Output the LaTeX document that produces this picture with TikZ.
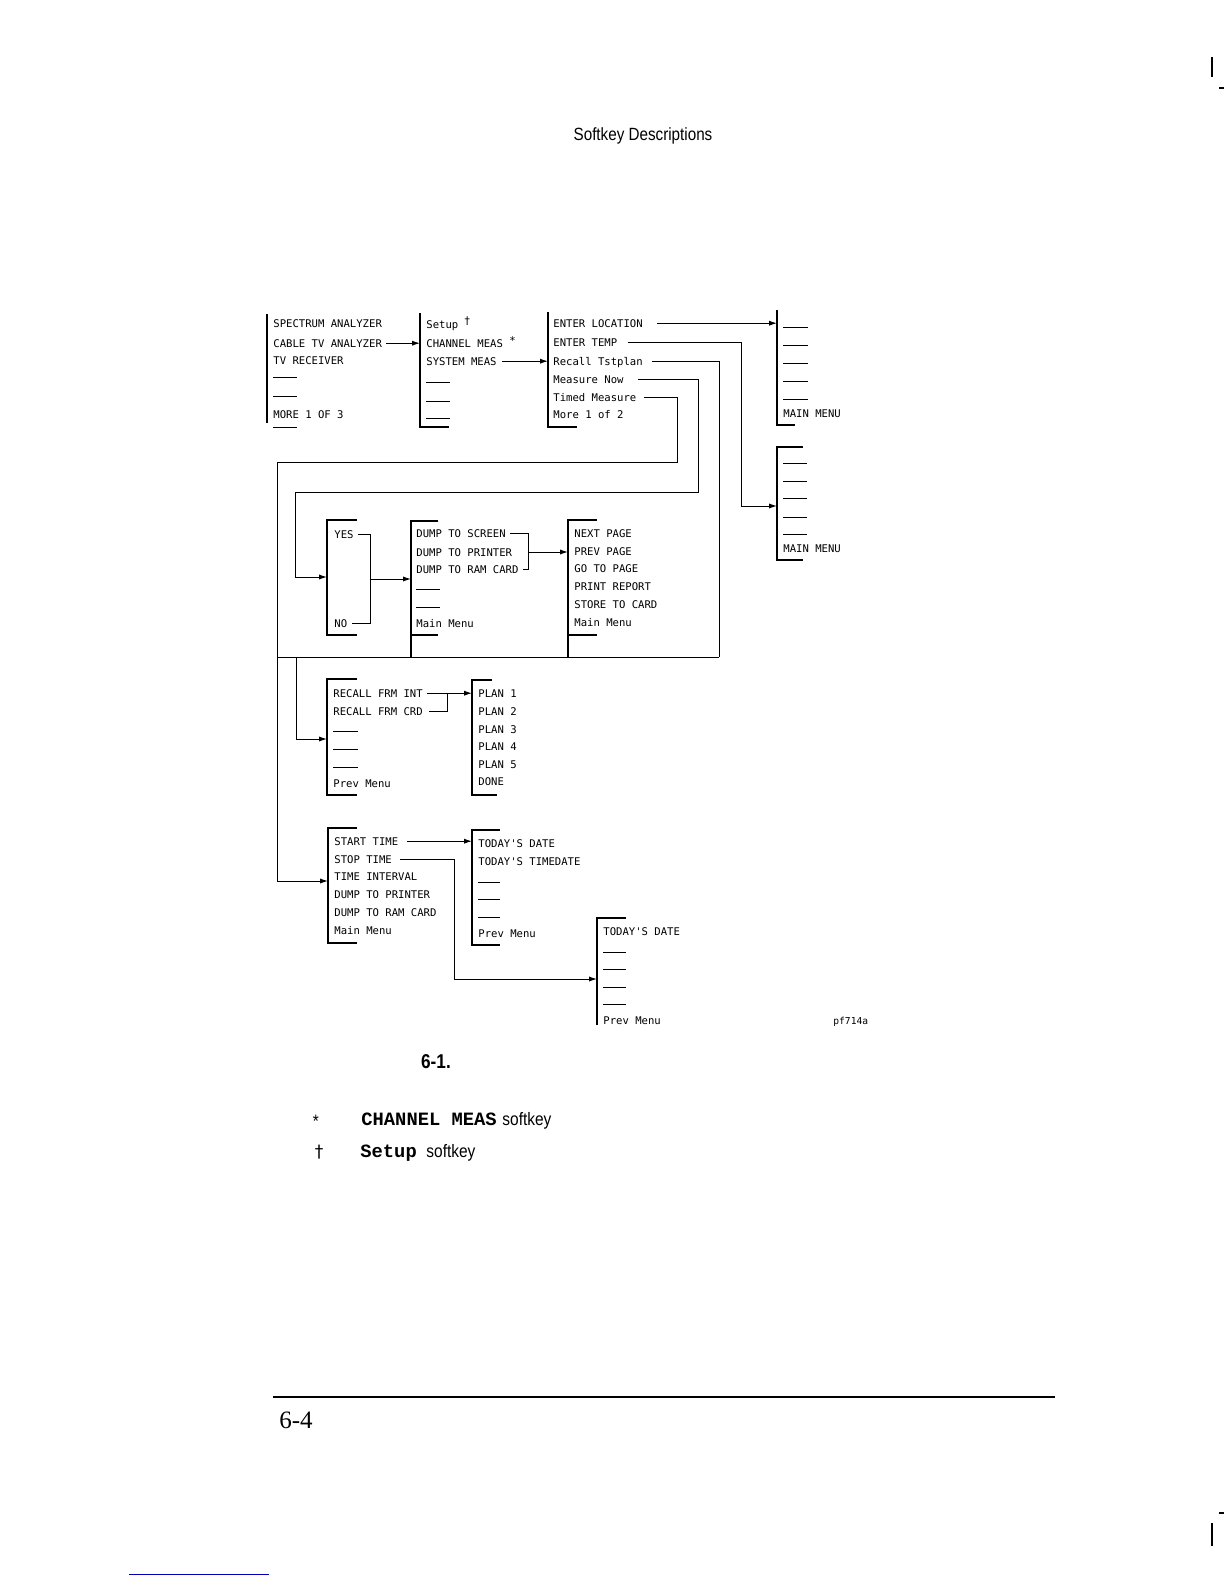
\documentclass[tikz,border=0pt]{standalone}
\usepackage{fontspec}
\setmainfont{Liberation Serif}
\newfontfamily\menufont{DejaVu Sans Mono}
\newfontfamily\condfont{Liberation Sans}[FakeStretch=0.86]
\newfontfamily\capmono{Liberation Mono}
\newfontfamily\symfont{DejaVu Sans}
\usetikzlibrary{arrows.meta,calc}
\tikzset{
  mi/.style={anchor=base west, inner sep=0pt, text height=3.8pt, text depth=0pt, font=\menufont\fontsize{5.3}{6}\selectfont},
  br/.style={line width=0.9pt},
  ds/.style={line width=0.45pt},
  cn/.style={line width=0.5pt},
  arr/.style={line width=0.5pt, -{Latex[length=4pt,width=2.6pt]}},
}
\begin{document}
\begin{tikzpicture}[x=0.5pt,y=-0.5pt]
\useasboundingbox (0,0) rectangle (1224,1584);

% bracket reference coordinates
\coordinate (A) at (267,314);
\coordinate (B) at (420,313);
\coordinate (C) at (548,312);
\coordinate (D) at (777,310);
\coordinate (E) at (777,447);
\coordinate (Y) at (327,520);
\coordinate (F) at (411,521);
\coordinate (G) at (568,520);
\coordinate (R) at (327,679);
\coordinate (P) at (472,680);
\coordinate (T) at (328,828);
\coordinate (U) at (472,830);
\coordinate (V) at (597,918);

% header
\node[font=\condfont\fontsize{8.85}{10}\selectfont, inner sep=0pt] (hdr) at (643,136) {Softkey Descriptions};

% ---- Menu A
\draw[br] (267,314) -- (267,423);
\node[mi] (a1) at (273,327) {SPECTRUM ANALYZER};
\node[mi] (a2) at (273,347) {CABLE TV ANALYZER};
\node[mi] (a3) at (273,364) {TV RECEIVER};
\draw[ds] (273,377) -- (297,377);
\draw[ds] (273,396) -- (297,396);
\node[mi] (a6) at (273,418) {MORE 1 OF 3};
\draw[ds] (273,427) -- (297,427);

% ---- Menu B
\draw[br] (420,313) -- (420,427) -- (449,427);
\node[mi] (b1) at (426,328) {Setup \raisebox{2pt}{\symfont\fontsize{5.3}{6}\selectfont †}};
\node[mi] (b2) at (426,347) {CHANNEL MEAS \raisebox{1.5pt}{*}};
\node[mi] (b3) at (426,365) {SYSTEM MEAS};
\draw[ds] (426,382) -- (450,382);
\draw[ds] (426,401) -- (450,401);
\draw[ds] (426,418) -- (450,418);

% ---- Menu C
\draw[br] (548,312) -- (548,427) -- (577,427);
\node[mi] (c1) at (553,327) {ENTER LOCATION};
\node[mi] (c2) at (553,346) {ENTER TEMP};
\node[mi] (c3) at (553,365) {Recall Tstplan};
\node[mi] (c4) at (553,383) {Measure Now};
\node[mi] (c5) at (553,401) {Timed Measure};
\node[mi] (c6) at (553,418) {More 1 of 2};

% ---- Menu D
\draw[br] (777,310) -- (777,425) -- (795,425);
\foreach \yy in {327,345,363,381,399} \draw[ds] (783,\yy) -- (808,\yy);
\node[mi] (d6) at (783,417) {MAIN MENU};

% ---- Menu E
\draw[br] (803,447) -- (777,447) -- (777,560) -- (803,560);
\foreach \yy in {463,481,498,517,534} \draw[ds] (783,\yy) -- (807,\yy);
\node[mi] (e6) at (783,552) {MAIN MENU};

% ---- YES/NO menu
\draw[br] (357,520) -- (327,520) -- (327,635) -- (357,635);
\node[mi] (yes) at (334,538) {YES};
\node[mi] (no) at (334,627) {NO};

% ---- DUMP menu
\draw[br] (438,521) -- (411,521) -- (411,657);
\draw[br] (411,635) -- (438,635);
\node[mi] (f1) at (416,537) {DUMP TO SCREEN};
\node[mi] (f2) at (416,556) {DUMP TO PRINTER};
\node[mi] (f3) at (416,573) {DUMP TO RAM CARD};
\draw[ds] (416,589) -- (440,589);
\draw[ds] (416,607) -- (440,607);
\node[mi] (f6) at (416,627) {Main Menu};

% ---- NEXT PAGE menu
\draw[br] (597,520) -- (568,520) -- (568,657);
\draw[br] (568,635) -- (597,635);
\node[mi] (g1) at (574,537) {NEXT PAGE};
\node[mi] (g2) at (574,555) {PREV PAGE};
\node[mi] (g3) at (574,572) {GO TO PAGE};
\node[mi] (g4) at (574,590) {PRINT REPORT};
\node[mi] (g5) at (574,608) {STORE TO CARD};
\node[mi] (g6) at (574,626) {Main Menu};

% ---- RECALL menu
\draw[br] (357,679) -- (327,679) -- (327,795) -- (357,795);
\node[mi] (r1) at (333,697) {RECALL FRM INT};
\node[mi] (r2) at (333,715) {RECALL FRM CRD};
\foreach \yy in {731,749,767} \draw[ds] (333,\yy) -- (358,\yy);
\node[mi] (r6) at (333,787) {Prev Menu};

% ---- PLAN menu
\draw[br] (492,680) -- (472,680) -- (472,795) -- (497,795);
\node[mi] (p1) at (478,697) {PLAN 1};
\node[mi] (p2) at (478,715) {PLAN 2};
\node[mi] (p3) at (478,733) {PLAN 3};
\node[mi] (p4) at (478,750) {PLAN 4};
\node[mi] (p5) at (478,768) {PLAN 5};
\node[mi] (p6) at (478,785) {DONE};

% ---- Timed menu
\draw[br] (357,828) -- (328,828) -- (328,943) -- (357,943);
\node[mi] (t1) at (334,845) {START TIME};
\node[mi] (t2) at (334,863) {STOP TIME};
\node[mi] (t3) at (334,880) {TIME INTERVAL};
\node[mi] (t4) at (334,898) {DUMP TO PRINTER};
\node[mi] (t5) at (334,916) {DUMP TO RAM CARD};
\node[mi] (t6) at (334,934) {Main Menu};

% ---- TODAY menu 1
\draw[br] (500,830) -- (472,830) -- (472,945) -- (500,945);
\node[mi] (u1) at (478,847) {TODAY'S DATE};
\node[mi] (u2) at (478,865) {TODAY'S TIMEDATE};
\foreach \yy in {882,899,917} \draw[ds] (478,\yy) -- (500,\yy);
\node[mi] (u6) at (478,937) {Prev Menu};

% ---- TODAY menu 2
\draw[br] (626,918) -- (597,918) -- (597,1025);
\node[mi] (v1) at (603,935) {TODAY'S DATE};
\foreach \yy in {952,969,987,1004} \draw[ds] (603,\yy) -- (626,\yy);
\node[mi] (v6) at (603,1024) {Prev Menu};

% ---- connectors
\coordinate (k2) at (741,0);
\coordinate (Ein) at (777,506);
\coordinate (k3) at (719,657);
\coordinate (hl) at (277,657);
\coordinate (k3b) at (296,657);
\coordinate (Rin) at (327,739);
\coordinate (k4) at (698,492);
\coordinate (k4b) at (295,492);
\coordinate (Yin) at (327,577);
\coordinate (k5) at (677,462);
\coordinate (k5b) at (277,462);
\coordinate (Tin) at (328,881);
\coordinate (yn1) at (370,534);
\coordinate (ynj) at (370,579);
\coordinate (fj) at (528,552);
\coordinate (rj) at (447,700);
\coordinate (tj) at (454,979);
\coordinate (Vin) at (597,979);

\draw[arr] ([xshift=2pt]a2.east) -- (a2.east -| B);
\draw[arr] ([xshift=2.5pt]b3.east) -- (b3.east -| C);
\draw[arr] ([xshift=7pt]c1.east) -- (c1.east -| D);
\draw[arr] ([xshift=5pt]c2.east) -| (k2 |- Ein) -- (Ein);
\draw[cn] ([xshift=4.5pt]c3.east) -| (k3);
\draw[cn] (hl) -- (k3);
\draw[arr] (k3b) |- (Rin);
\draw[arr] ([xshift=7pt]c4.east) -| (k4) -- (k4b) |- (Yin);
\draw[arr] ([xshift=3.5pt]c5.east) -| (k5) -- (k5b) |- (Tin);

\draw[cn] ([xshift=2pt]yes.east) -- (yes.east -| yn1) -- (no.east -| yn1) -- ([xshift=2pt]no.east);
\draw[arr] (ynj) -- (ynj -| F);

\draw[cn] ([xshift=2pt]f1.east) -- (f1.east -| fj) -- (f3.east -| fj) -- ([xshift=2pt]f3.east);
\draw[arr] (fj) -- (fj -| G);

\draw[arr] ([xshift=2pt]r1.east) -- (r1.east -| P);
\draw[cn] ([xshift=3pt]r2.east) -- (r2.east -| rj) -- (r1.east -| rj);

\draw[arr] ([xshift=4pt]t1.east) -- (t1.east -| U);
\draw[arr] ([xshift=4pt]t2.east) -| (tj) -- (Vin);

% figure id
\node[anchor=west, inner sep=0pt, font=\menufont\fontsize{4.8}{5}\selectfont] (pf) at (833,1022) {pf714a};

% caption
\node[font=\condfont\bfseries\fontsize{10}{11}\selectfont, inner sep=0pt] (cap) at (436,1062) {6-1.};

% footnotes
\node[anchor=base, inner sep=0pt, font=\condfont\fontsize{9}{10}\selectfont] (s1) at (316,1127) {*};
\node[anchor=base west, inner sep=0pt, font=\capmono\bfseries\fontsize{9.4}{10}\selectfont] (fn1) at (361,1125) {CHANNEL MEAS};
\node[anchor=base west, inner sep=0pt, font=\condfont\fontsize{9}{10}\selectfont] (fn1b) at (502,1125) {softkey};
\node[anchor=base, inner sep=0pt, font=\symfont\fontsize{8.5}{9}\selectfont] (s2) at (319,1157) {†};
\node[anchor=base west, inner sep=0pt, font=\capmono\bfseries\fontsize{9.4}{10}\selectfont] (fn2) at (360,1157) {Setup};
\node[anchor=base west, inner sep=0pt, font=\condfont\fontsize{9}{10}\selectfont] (fn2b) at (426,1157) {softkey};

% footer
\draw[line width=0.75pt] (273,1397) -- (1055,1397);
\node[anchor=base west, inner sep=0pt, font=\fontsize{12.5}{14}\selectfont] (pg) at (279,1428) {6-4};

% margin marks
\draw[line width=1.1pt] (1212,57) -- (1212,77);
\draw[line width=0.6pt] (1219,88) -- (1224,88);
\draw[line width=0.6pt] (1219,1513) -- (1224,1513);
\draw[line width=1.1pt] (1212,1523) -- (1212,1546);
\draw[line width=0.4pt, blue!70!black] (129,1574) -- (269,1574);
\end{tikzpicture}
\end{document}
